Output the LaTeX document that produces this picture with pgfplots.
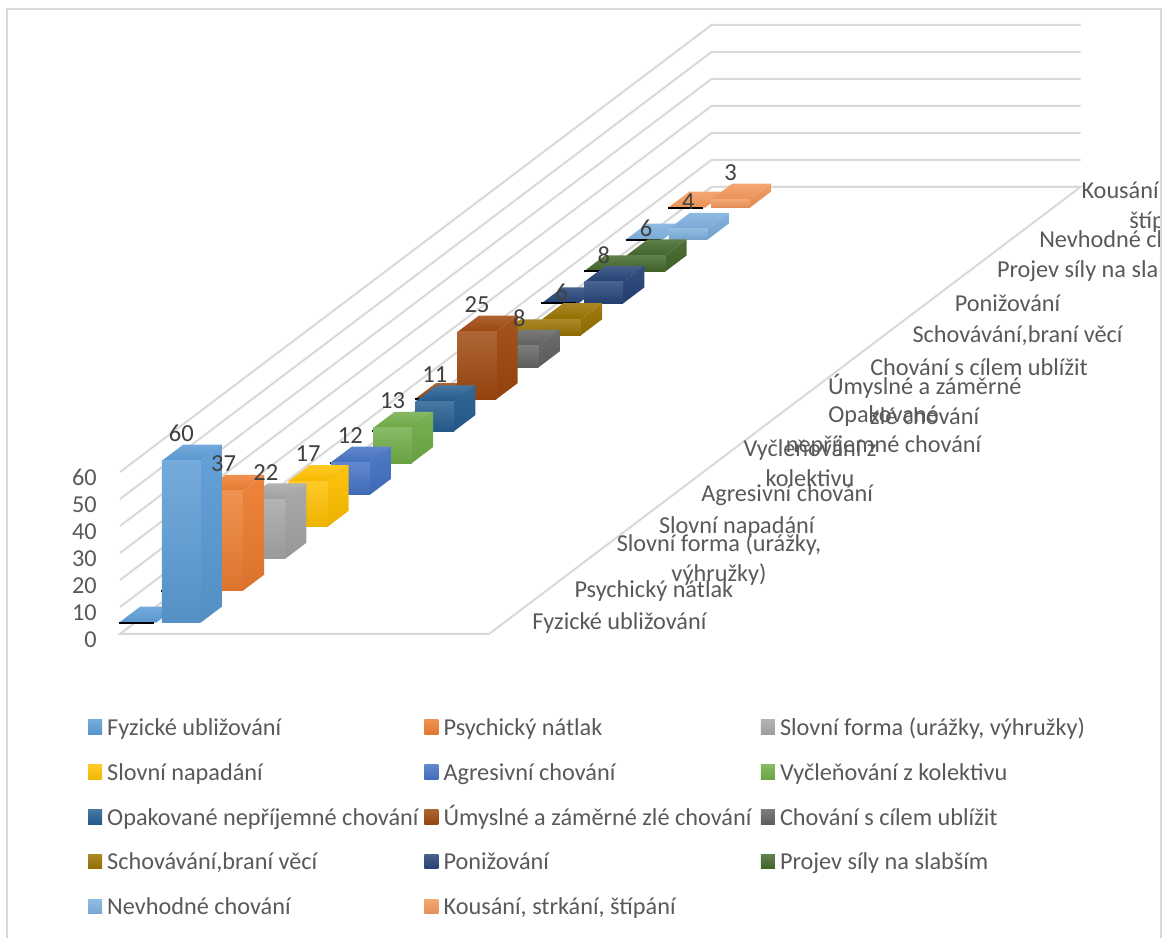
\documentclass[border=0pt]{standalone}
\usepackage{fontspec}
\setmainfont{Carlito}
\usepackage{pgfplots}
\pgfplotsset{compat=1.18}
\definecolor{c1}{HTML}{5B9BD5}
\definecolor{c2}{HTML}{ED7D31}
\definecolor{c3}{HTML}{A5A5A5}
\definecolor{c4}{HTML}{FFC000}
\definecolor{c5}{HTML}{4472C4}
\definecolor{c6}{HTML}{70AD47}
\definecolor{c7}{HTML}{255E91}
\definecolor{c8}{HTML}{9E480E}
\definecolor{c9}{HTML}{636363}
\definecolor{c10}{HTML}{997300}
\definecolor{c11}{HTML}{264478}
\definecolor{c12}{HTML}{43682B}
\definecolor{c13}{HTML}{7CAFDD}
\definecolor{c14}{HTML}{F1975A}
\definecolor{gridc}{HTML}{D9D9D9}
\definecolor{labc}{HTML}{595959}
\definecolor{valc}{HTML}{404040}
\newcommand{\lab}{\fontsize{18.2}{22.5}\selectfont}
\newcommand{\val}{\fontsize{18.4}{21}\selectfont}

% one row of the 3D chart: the empty column, then the column of value #2
\newcommand{\rowbars}[3]{%
  \pgfmathsetmacro{\ya}{#1+0.354}%
  \pgfmathsetmacro{\yb}{#1+0.854}%
  \addplot3[forget plot,draw=none,top color=#3!85!white,bottom color=#3!97!black]
    coordinates {(-16,\ya,0) (21,\ya,0) (21,\yb,0) (-16,\yb,0)};
  \addplot3[forget plot,black,line width=1.5pt]
    coordinates {(-16,\ya,0) (19,\ya,0)};
  \addplot3[forget plot,draw=none,top color=#3!85!white,bottom color=#3!97!black]
    coordinates {(27,\ya,#2) (65.7,\ya,#2) (65.7,\yb,#2) (27,\yb,#2)};
  \addplot3[forget plot,draw=none,top color=#3!94!white,bottom color=#3!92!black]
    coordinates {(65.7,\ya,0) (65.7,\yb,0) (65.7,\yb,#2) (65.7,\ya,#2)};
  \addplot3[forget plot,draw=none,top color=#3!84!white,bottom color=#3!93!black]
    coordinates {(27,\ya,0) (65.7,\ya,0) (65.7,\ya,#2) (27,\ya,#2)};
}
\newcommand{\vallabel}[2]{%
  \node[font=\val,text=valc,inner sep=0pt] at (axis cs:25.3,{#1+0.854},{#2+4.07}) {#2};
}
\newcommand{\wall}[1]{%
  \addplot3[forget plot,gridc,line width=1.5pt]
    coordinates {(0,0,#1) (0,14,#1) (369,14,#1)};
  \node[font=\lab,text=labc,anchor=east,inner sep=0pt] at (axis cs:-23,0,{#1-2.0}) {#1};
}
\newcommand{\swatch}[2]{%
  \addlegendimage{legend image code/.code={\shade[draw=none,top color=#1!84!white,bottom color=#1!95!black] (0pt,-3.2pt) rectangle (10.5pt,7.8pt);}}
  \addlegendentry{#2}
}
\newcommand{\catlabel}[2]{%
  \node[font=\lab,text=labc,anchor=west,align=center,inner sep=0pt]
    at ({532+42.25*#1},{623.5-32*#1}) {#2};
}

\begin{document}
\begin{tikzpicture}
\useasboundingbox (0,0) rectangle (875.25pt,703.5pt);
\begin{axis}[
  at={(90pt,228pt)},anchor=origin,
  disabledatascaling,
  x={(0.75pt,0pt)},y={(31.6875pt,23.9475pt)},z={(0pt,2.025pt)},
  xmin=-40,xmax=400,ymin=-1,ymax=15,zmin=-40,zmax=70,
  hide axis,clip=false,no markers,
  legend columns=3,
  legend cell align=left,
  legend style={
    at={(axis cs:-32,0,-31.7)},anchor=north west,
    draw=none,fill=none,inner sep=0pt,outer sep=0pt,
    font=\lab,text=labc,
    nodes={inner sep=0pt,text width=237.9pt,text height=12pt,text depth=4pt,align=flush left},
    /tikz/every even column/.append style={column sep=0pt},
    /tikz/every odd column/.append style={column sep=3.9pt},
    row sep=17.6pt,
  },
]
% floor and back walls
\addplot3[forget plot,gridc,line width=1.5pt]
  coordinates {(0,14,0) (0,0,0) (369,0,0) (369,14,0) (0,14,0)};
\wall{0}\wall{10}\wall{20}\wall{30}\wall{40}\wall{50}\wall{60}

% columns, from the back row to the front row
\rowbars{13}{3}{c14}
\rowbars{12}{4}{c13}
\rowbars{11}{6}{c12}
\rowbars{10}{8}{c11}
\rowbars{9}{6}{c10}
\rowbars{8}{8}{c9}
\rowbars{7}{25}{c8}
\rowbars{6}{11}{c7}
\rowbars{5}{13}{c6}
\rowbars{4}{12}{c5}
\rowbars{3}{17}{c4}
\rowbars{2}{22}{c3}
\rowbars{1}{37}{c2}
\rowbars{0}{60}{c1}

% value labels
\vallabel{13}{3}
\vallabel{12}{4}
\vallabel{11}{6}
\vallabel{10}{8}
\vallabel{9}{6}
\vallabel{8}{8}
\vallabel{7}{25}
\vallabel{6}{11}
\vallabel{5}{13}
\vallabel{4}{12}
\vallabel{3}{17}
\vallabel{2}{22}
\vallabel{1}{37}
\vallabel{0}{60}

\swatch{c1}{Fyzické ubližování}
\swatch{c2}{Psychický nátlak}
\swatch{c3}{Slovní forma (urážky, výhružky)}
\swatch{c4}{Slovní napadání}
\swatch{c5}{Agresivní chování}
\swatch{c6}{Vyčleňování z kolektivu}
\swatch{c7}{Opakované nepříjemné chování}
\swatch{c8}{Úmyslné a záměrné zlé chování}
\swatch{c9}{Chování s cílem ublížit}
\swatch{c10}{Schovávání,braní věcí}
\swatch{c11}{Ponižování}
\swatch{c12}{Projev síly na slabším}
\swatch{c13}{Nevhodné chování}
\swatch{c14}{Kousání, strkání, štípání}
\end{axis}

% category names along the depth axis, cut off at the chart frame
\begin{scope}[shift={(0pt,703.5pt)},x=0.75pt,y=-0.75pt]
  \begin{scope}
    \clip (7,9) rectangle (1161,938);
    \catlabel{0}{Fyzické ubližování}
    \catlabel{1}{Psychický nátlak}
    \catlabel{2}{Slovní forma (urážky,\\výhružky)}
    \catlabel{3}{Slovní napadání}
    \catlabel{4}{Agresivní chování}
    \catlabel{5}{Vyčleňování z\\kolektivu}
    \catlabel{6}{Opakované\\nepříjemné chování}
    \catlabel{7}{Úmyslné a záměrné\\zlé chování}
    \catlabel{8}{Chování s cílem ublížit}
    \catlabel{9}{Schovávání,braní věcí}
    \catlabel{10}{Ponižování}
    \catlabel{11}{Projev síly na slabším}
    \catlabel{12}{Nevhodné chování}
    \catlabel{13}{Kousání, strkání,\\štípání}
  \end{scope}
  \draw[gridc,line width=1.5pt] (7,938) -- (7,9) -- (1161,9) -- (1161,938);
\end{scope}
\end{tikzpicture}
\end{document}
